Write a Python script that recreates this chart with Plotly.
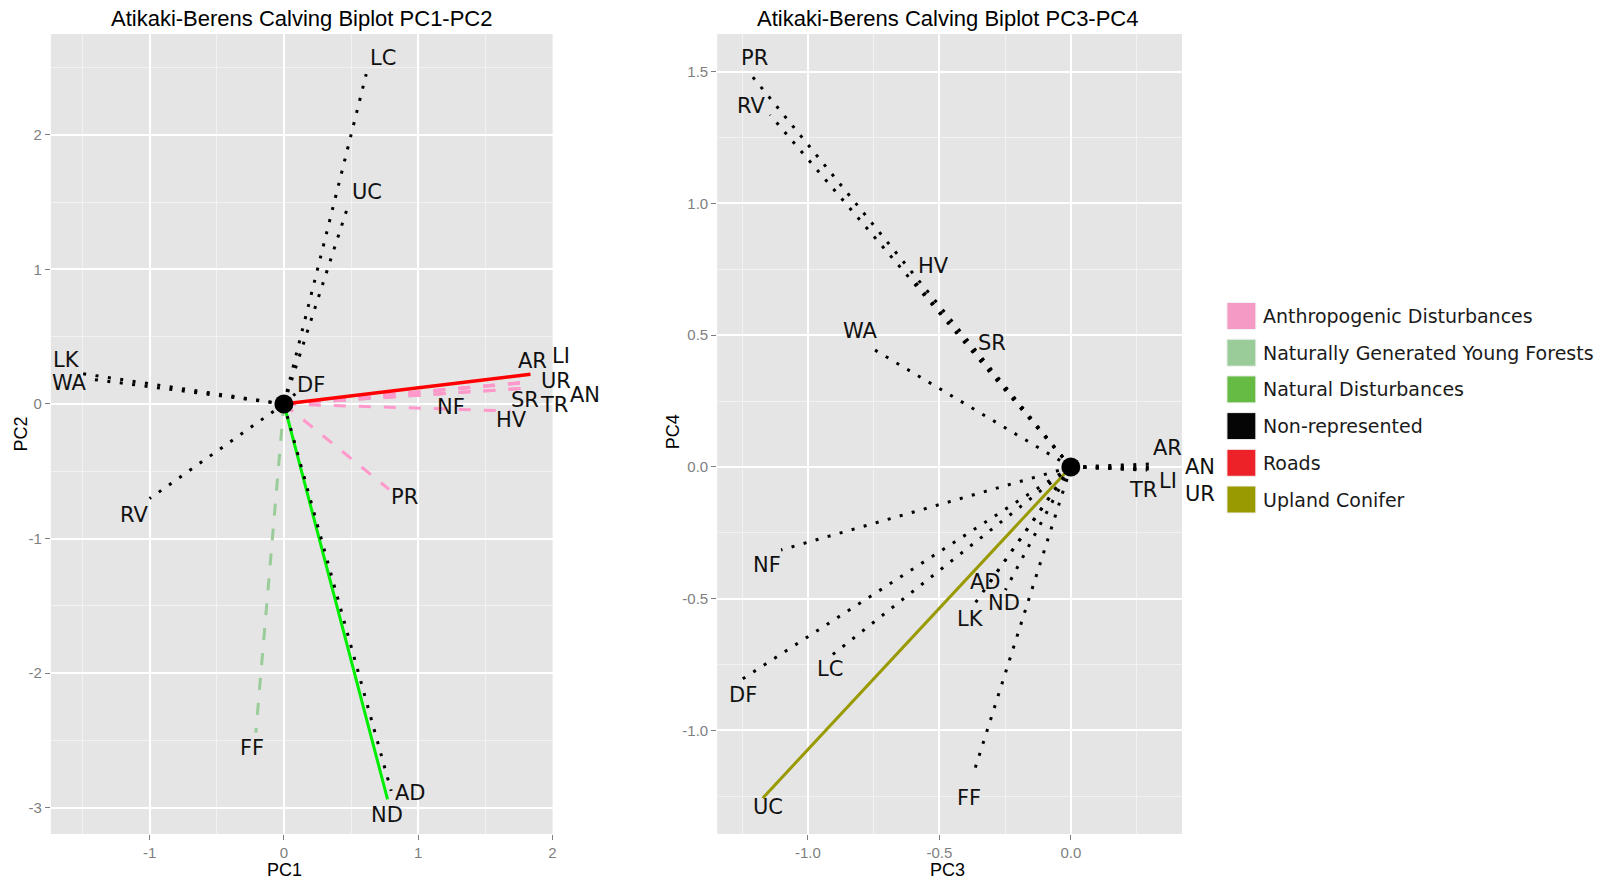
import plotly.graph_objects as go

W, H = 1604, 881


def px(v):
    return v / W


def py(v):
    return 1 - v / H


# ---------------- data ----------------
variables = ["LC", "UC", "LK", "WA", "DF", "AR", "LI", "UR", "SR", "TR",
             "AN", "HV", "NF", "PR", "RV", "FF", "ND", "AD"]

# PC1-PC2 loadings
pc1 = [0.613, 0.485, -1.544, -1.464, 0.085, 1.836, 1.840, 1.823, 1.770, 1.790,
       1.830, 1.687, 1.350, 0.783, -1.000, -0.209, 0.772, 0.799]
pc2 = [2.451, 1.494, 0.232, 0.188, 0.075, 0.221, 0.166, 0.163, 0.115, 0.117,
       0.160, -0.052, 0.089, -0.634, -0.703, -2.442, -2.937, -2.875]
group_12 = ["Non-represented", "Non-represented", "Non-represented", "Non-represented",
            "Non-represented", "Roads", "Anthropogenic Disturbances",
            "Anthropogenic Disturbances", "Anthropogenic Disturbances",
            "Anthropogenic Disturbances", "Anthropogenic Disturbances",
            "Anthropogenic Disturbances", "Naturally Generated Young Forests",
            "Anthropogenic Disturbances", "Non-represented",
            "Naturally Generated Young Forests", "Natural Disturbances", "Non-represented"]

# PC3-PC4 loadings
pc3 = [-0.916, -1.172, -0.362, -0.771, -1.254, 0.330, 0.290, 0.300, -0.378, 0.260,
       0.310, -0.599, -1.102, -1.232, -1.144, -0.374, -0.249, -0.306]
pc4 = [-0.720, -1.257, -0.514, 0.459, -0.808, 0.012, -0.012, -0.008, 0.450, -0.010,
       0.000, 0.710, -0.315, 1.507, 1.336, -1.175, -0.467, -0.435]
group_34 = ["Non-represented", "Upland Conifer"] + ["Non-represented"] * 16

legend_groups = ["Anthropogenic Disturbances", "Naturally Generated Young Forests",
                 "Natural Disturbances", "Non-represented", "Roads", "Upland Conifer"]
legend_fill = ["#F49AC4", "#99CC99", "#66BB44", "#050505", "#EC2228", "#999900"]

titles = ["Atikaki-Berens Calving Biplot PC1-PC2", "Atikaki-Berens Calving Biplot PC3-PC4"]

x1_ticks = [-1, 0, 1, 2]
x1_text = ["-1", "0", "1", "2"]
y1_ticks = [-3, -2, -1, 0, 1, 2]
y1_text = ["-3", "-2", "-1", "0", "1", "2"]
x2_ticks = [-1.0, -0.5, 0.0]
x2_text = ["-1.0", "-0.5", "0.0"]
y2_ticks = [-1.0, -0.5, 0.0, 0.5, 1.0, 1.5]
y2_text = ["-1.0", "-0.5", "0.0", "0.5", "1.0", "1.5"]

# ---------------- styles ----------------
line_style = {
    "Anthropogenic Disturbances": dict(color="#FF99CC", width=3, dash="12px,13px"),
    "Naturally Generated Young Forests": dict(color="#99CC99", width=3, dash="12px,13px"),
    "Natural Disturbances": dict(color="#00EE00", width=3, dash="solid"),
    "Non-represented": dict(color="#000000", width=3, dash="3px,9.5px"),
    "Roads": dict(color="#FF0000", width=3.5, dash="solid"),
    "Upland Conifer": dict(color="#999900", width=3, dash="solid"),
}
draw_order = ["Naturally Generated Young Forests", "Anthropogenic Disturbances",
              "Natural Disturbances", "Roads", "Upland Conifer", "Non-represented"]

# label offsets from arrow tip, in screen pixels (dx right, dy down)
shift_12 = {"LC": (17, -16), "UC": (18, -11), "LK": (-10, -13), "WA": (-18, 4),
            "DF": (16, -9), "AR": (2, -13), "LI": (30, -26), "UR": (27, -1),
            "AN": (55, 13), "SR": (3, 11), "TR": (30, 17), "HV": (1, 9),
            "NF": (-14, 15), "PR": (15, 8), "RV": (-16, 16), "FF": (-4, 15),
            "ND": (-1, 16), "AD": (19, 2)}
shift_34 = {"PR": (8, -12), "RV": (-19, -9), "HV": (20, -14), "SR": (21, -5),
            "WA": (-8, -15), "AR": (10, -16), "AN": (48, 0), "LI": (21, 11),
            "TR": (4, 20), "UR": (50, 25), "NF": (-14, 15), "AD": (-5, 0),
            "ND": (-1, 13), "LK": (-5, 17), "LC": (0, 12), "DF": (2, 15),
            "FF": (-3, 21), "UC": (5, 9)}

SANS = "Liberation Sans, Arial, sans-serif"
DEJAVU = "DejaVu Sans, Verdana, sans-serif"

fig = go.Figure()

panels = [
    (pc1, pc2, group_12, "x", "y", shift_12),
    (pc3, pc4, group_34, "x2", "y2", shift_34),
]

annotations = []
for xs, ys, grp, xa, ya, shifts in panels:
    for g in draw_order:
        for v, xv, yv, gg in zip(variables, xs, ys, grp):
            if gg != g:
                continue
            fig.add_trace(go.Scatter(
                x=[0, xv], y=[0, yv], mode="lines", line=line_style[g],
                xaxis=xa, yaxis=ya, showlegend=False, hoverinfo="skip"))
    fig.add_trace(go.Scatter(x=[0], y=[0], mode="markers",
                             marker=dict(size=19, color="black"),
                             xaxis=xa, yaxis=ya, showlegend=False, hoverinfo="skip"))
    for v, xv, yv in zip(variables, xs, ys):
        dx, dy = shifts[v]
        annotations.append(dict(
            text=v, x=xv, y=yv, xref=xa, yref=ya, showarrow=False,
            xanchor="center", yanchor="middle", xshift=dx, yshift=-dy,
            font=dict(family=DEJAVU, size=21, color="#111111")))

# titles
for t, cx in zip(titles, [303, 950]):
    annotations.append(dict(text=t, xref="paper", yref="paper", x=px(cx), y=py(18.5),
                            xanchor="center", yanchor="middle", showarrow=False,
                            font=dict(family=SANS, size=22, color="black")))
# axis titles
for txt, ax_, ay_, ang in [("PC1", 285, 869.5, 0), ("PC3", 950, 869.5, 0),
                           ("PC2", 21.5, 434, -90), ("PC4", 675, 432, -90)]:
    annotations.append(dict(text=txt, xref="paper", yref="paper", x=px(ax_), y=py(ay_),
                            xanchor="center", yanchor="middle", showarrow=False, textangle=ang,
                            font=dict(family=SANS, size=18, color="black")))

# legend (manual, large keys)
shapes = []
for i, (g, c) in enumerate(zip(legend_groups, legend_fill)):
    cy = 316 + i * 36.7
    shapes.append(dict(type="rect", xref="paper", yref="paper",
                       x0=px(1230), x1=px(1259), y0=py(cy + 13.5), y1=py(cy - 13.5),
                       fillcolor=c, line=dict(color="#F2F2F2", width=1)))
    annotations.append(dict(text=g, xref="paper", yref="paper", x=px(1264), y=py(cy),
                            xanchor="left", yanchor="middle", showarrow=False,
                            font=dict(family=DEJAVU, size=19, color="#1A1A1A")))

axis_common = dict(showgrid=True, gridcolor="white", gridwidth=1.8, zeroline=False,
                   showline=False, ticks="outside", ticklen=5, tickwidth=1,
                   tickcolor="#7F7F7F", tickfont=dict(family=SANS, size=15, color="#7F7F7F"),
                   fixedrange=True)
minor_common = dict(showgrid=True, gridcolor="#F2F2F2", gridwidth=1, ticklen=0, tickmode="array")

ydom = [py(834), py(34)]
fig.update_layout(
    width=W, height=H, margin=dict(l=0, r=0, t=0, b=0),
    paper_bgcolor="white", plot_bgcolor="#E5E5E5", showlegend=False,
    xaxis=dict(domain=[px(51), px(554)], range=[-1.735, 2.001], anchor="y",
               tickmode="array", tickvals=x1_ticks, ticktext=x1_text,
               minor=dict(tickvals=[-1.5, -0.5, 0.5, 1.5], **minor_common), **axis_common),
    yaxis=dict(domain=ydom, range=[-3.195, 2.749], anchor="x",
               tickmode="array", tickvals=y1_ticks, ticktext=y1_text,
               minor=dict(tickvals=[-2.5, -1.5, -0.5, 0.5, 1.5, 2.5], **minor_common), **axis_common),
    xaxis2=dict(domain=[px(719), px(1185)], range=[-1.345, 0.423], anchor="y2",
                tickmode="array", tickvals=x2_ticks, ticktext=x2_text,
                minor=dict(tickvals=[-1.25, -0.75, -0.25, 0.25], **minor_common), **axis_common),
    yaxis2=dict(domain=ydom, range=[-1.393, 1.643], anchor="x2",
                tickmode="array", tickvals=y2_ticks, ticktext=y2_text,
                minor=dict(tickvals=[-1.25, -0.75, -0.25, 0.25, 0.75, 1.25], **minor_common), **axis_common),
    annotations=annotations, shapes=shapes,
)

fig.write_html("out.html", config={"displayModeBar": False},
               post_script="document.body.style.margin='0px';document.body.style.padding='0px';")
